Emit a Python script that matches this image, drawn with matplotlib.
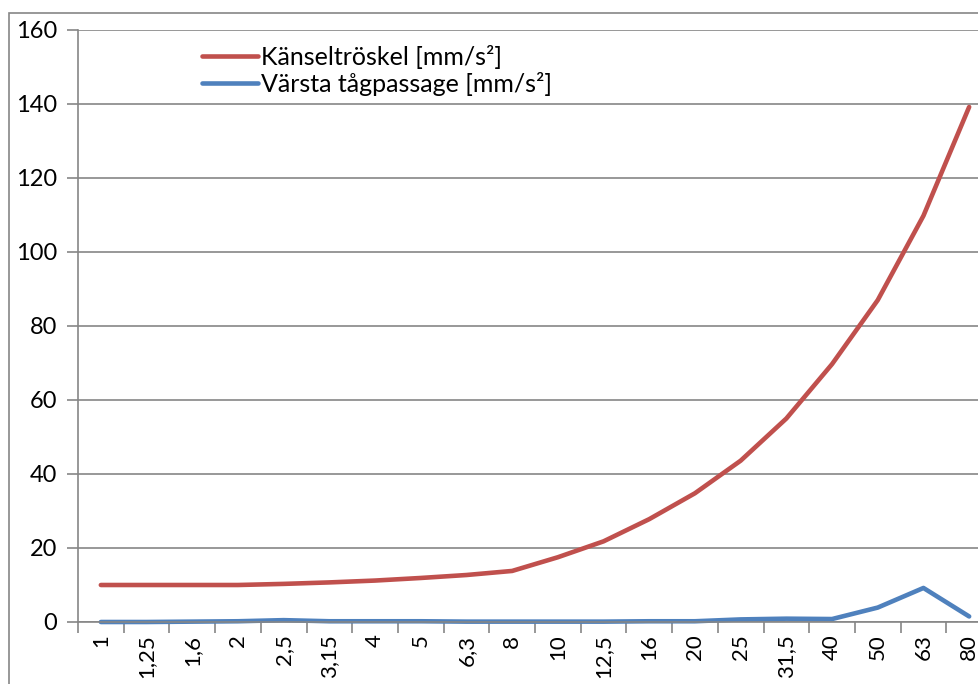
import matplotlib
matplotlib.use("Agg")

import matplotlib.pyplot as plt
from matplotlib.patches import Rectangle

# Data
frekvens = ["1", "1,25", "1,6", "2", "2,5", "3,15", "4", "5", "6,3", "8",
            "10", "12,5", "16", "20", "25", "31,5", "40", "50", "63", "80"]
kanseltroskel = [10, 10, 10, 10, 10.3, 10.7, 11.2, 11.9, 12.7, 13.8,
                 17.5, 21.8, 27.8, 34.8, 43.6, 55, 69.7, 87, 109.8, 139.2]
varsta_tag = [0, 0, 0.1, 0.2, 0.5, 0.2, 0.2, 0.2, 0.1, 0.1,
              0.1, 0.1, 0.2, 0.2, 0.7, 0.9, 0.8, 3.9, 9.2, 1.5]

plt.rcParams["font.family"] = ["Lato", "DejaVu Sans"]

W, H = 979, 684
fig = plt.figure(figsize=(W / 100, H / 100), dpi=100)

# Yttre diagramram (beskuren till höger/nedtill som i förlagan)
fig.patches.append(Rectangle((9 / W, -0.1), 1.2, 1 - 13 / H + 0.1,
                             transform=fig.transFigure, fill=False,
                             edgecolor="#868686", linewidth=1.2))

left, right = 78 / W, 992 / W
bottom, top = 1 - 622 / H, 1 - 30 / H
ax = fig.add_axes([left, bottom, right - left, top - bottom])

x = range(len(frekvens))
ax.plot(x, kanseltroskel, color="#C0504D", linewidth=3.3,
        solid_capstyle="round", label="Känseltröskel [mm/s²]", clip_on=False)
ax.plot(x, varsta_tag, color="#4F81BD", linewidth=3.3,
        solid_capstyle="round", label="Värsta tågpassage [mm/s²]", clip_on=False)

ax.set_xlim(-0.5, len(frekvens) - 0.5)
ax.set_ylim(0, 160)
ax.set_yticks(range(0, 161, 20))
ax.set_xticks(list(x))
ax.set_xticklabels(frekvens, rotation=90, fontsize=16)
ax.set_xticks([i - 0.5 for i in range(len(frekvens) + 1)], minor=True)
ax.tick_params(axis="x", which="major", length=0, pad=9)
ax.tick_params(axis="x", which="minor", length=8, width=1.2, color="#868686")
ax.tick_params(axis="y", length=8, width=1.2, color="#868686", labelsize=17, pad=7)

ax.grid(axis="y", color="#868686", linewidth=1.2)
ax.set_axisbelow(True)
for s in ["top", "right"]:
    ax.spines[s].set_visible(False)
for s in ["left", "bottom"]:
    ax.spines[s].set_color("#868686")
    ax.spines[s].set_linewidth(1.2)

fig.legend(loc="upper left", bbox_to_anchor=(202 / W, 1 - 45 / H),
           frameon=False, fontsize=18, handlelength=2.25, handletextpad=0.12,
           labelspacing=0.1, borderpad=0, borderaxespad=0)

fig.savefig("out.png", dpi=100)
plt.close(fig)
